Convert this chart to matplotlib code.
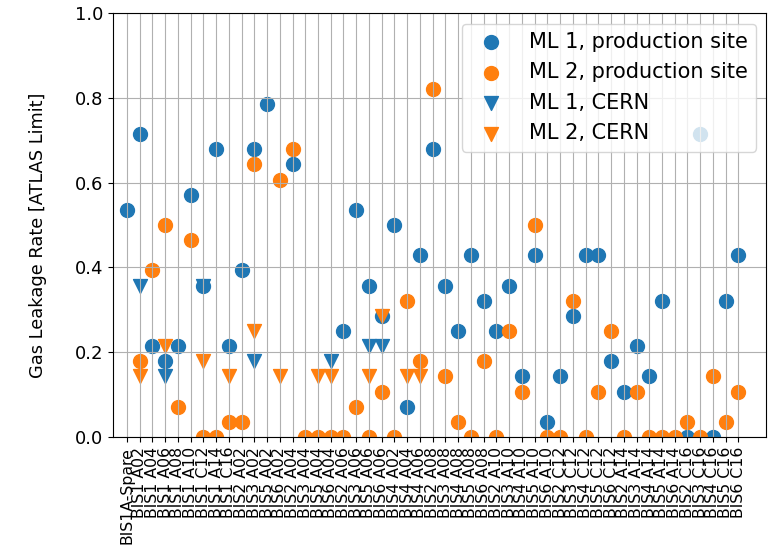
import numpy as np
import matplotlib
matplotlib.use("Agg")
import matplotlib.pyplot as plt

nan = np.nan

chambers = ["BIS1A-Spare", "BIS1 A02", "BIS1 A04", "BIS1 A06", "BIS1 A08", "BIS1 A10",
            "BIS1 C12", "BIS1 A14", "BIS1 C16",
            "BIS2 A02", "BIS3 A02", "BIS5 A02", "BIS6 A02",
            "BIS2 A04", "BIS3 A04", "BIS5 A04", "BIS6 A04",
            "BIS2 A06", "BIS3 A06", "BIS5 A06", "BIS6 A06",
            "BIS4 A02", "BIS4 A04", "BIS4 A06",
            "BIS2 A08", "BIS3 A08", "BIS4 A08", "BIS5 A08", "BIS6 A08",
            "BIS2 A10", "BIS3 A10", "BIS4 A10", "BIS5 A10", "BIS6 A10",
            "BIS2 C12", "BIS3 C12", "BIS4 C12", "BIS5 C12", "BIS6 C12",
            "BIS2 A14", "BIS3 A14", "BIS4 A14", "BIS5 A14", "BIS6 A14",
            "BIS2 C16", "BIS3 C16", "BIS4 C16", "BIS5 C16", "BIS6 C16"]

ml1_production = [0.536, 0.714, 0.214, 0.179, 0.214, 0.571, 0.357, 0.679, 0.214, 0.393,
                  0.679, 0.786, nan, 0.643, nan, nan, nan, 0.25, 0.536, 0.357,
                  0.286, 0.5, 0.071, 0.429, 0.679, 0.357, 0.25, 0.429, 0.321, 0.25,
                  0.357, 0.143, 0.429, 0.036, 0.143, 0.286, 0.429, 0.429, 0.179, 0.107,
                  0.214, 0.143, 0.321, nan, 0.0, 0.714, 0.0, 0.321, 0.429]

ml2_production = [nan, 0.179, 0.393, 0.5, 0.071, 0.464, 0.0, 0.0, 0.036, 0.036,
                  0.643, nan, 0.607, 0.679, 0.0, 0.0, 0.0, 0.0, 0.071, 0.0,
                  0.107, 0.0, 0.321, 0.179, 0.821, 0.143, 0.036, 0.0, 0.179, 0.0,
                  0.25, 0.107, 0.5, 0.0, 0.0, 0.321, 0.0, 0.107, 0.25, 0.0,
                  0.107, 0.0, 0.0, 0.0, 0.036, 0.0, 0.143, 0.036, 0.107]

ml1_cern = [nan, 0.357, nan, 0.143, nan, nan, 0.357, nan, nan, nan,
            0.179, nan, nan, nan, nan, nan, 0.179, nan, nan, 0.214,
            0.214, nan, nan, nan, nan, nan, nan, nan, nan, nan,
            nan, nan, nan, nan, nan, nan, nan, nan, nan, nan,
            nan, nan, nan, nan, nan, nan, nan, nan, nan]

ml2_cern = [nan, 0.143, nan, 0.214, nan, nan, 0.179, nan, 0.143, nan,
            0.25, nan, 0.143, nan, nan, 0.143, 0.143, nan, nan, 0.143,
            0.286, nan, 0.143, 0.143, nan, nan, nan, nan, nan, nan,
            nan, nan, nan, nan, nan, nan, nan, nan, nan, nan,
            nan, nan, nan, nan, nan, nan, nan, nan, nan]

series_labels = ["ML 1, production site", "ML 2, production site", "ML 1, CERN", "ML 2, CERN"]

fig = plt.figure(figsize=(7.68, 5.49), dpi=100)
ax = fig.add_axes([0.147, 0.204, 0.851, 0.772])

x = np.arange(len(chambers))
ax.scatter(x, ml1_production, s=100, color="#1f77b4", marker="o", label=series_labels[0])
ax.scatter(x, ml2_production, s=100, color="#ff7f0e", marker="o", label=series_labels[1])
ax.scatter(x, ml1_cern, s=100, color="#1f77b4", marker="v", label=series_labels[2])
ax.scatter(x, ml2_cern, s=100, color="#ff7f0e", marker="v", label=series_labels[3])

ax.set_xticks(x)
ax.set_xticklabels(chambers, rotation=90, fontsize=11.3)
ax.set_xlim(-1.1, 50.2)
ax.set_ylim(0, 1.0)
ax.set_yticks([0.0, 0.2, 0.4, 0.6, 0.8, 1.0])
ax.tick_params(axis="y", labelsize=13)
ax.set_ylabel("Gas Leakage Rate [ATLAS Limit]", fontsize=12.8)
ax.yaxis.set_label_coords(-0.101, 0.476)
ax.grid(True)
ax.legend(loc="upper right", fontsize=15)

fig.savefig("out.png", dpi=100)
